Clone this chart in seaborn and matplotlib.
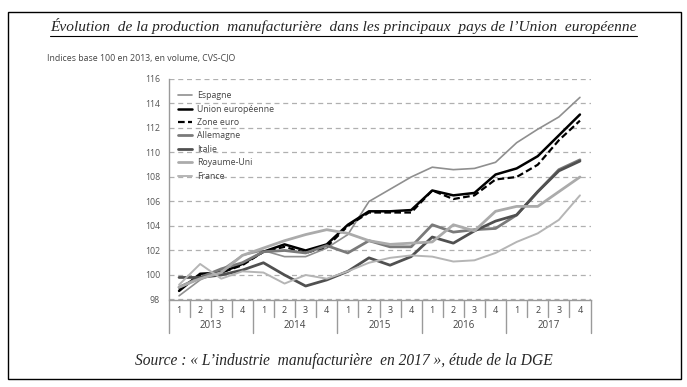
import matplotlib
matplotlib.use("Agg")
import matplotlib.pyplot as plt
import matplotlib.patches as mpatches
import matplotlib.transforms as mtransforms
import seaborn as sns
import pandas as pd

# Data (indices base 100 en 2013), quarters 2013Q1 .. 2017Q4
years = ["2013", "2014", "2015", "2016", "2017"]
quarters = ["1", "2", "3", "4"]

espagne = [98.3, 99.6, 100.4, 101.6, 102.0, 101.5, 101.5, 102.2, 103.3, 106.0,
           107.0, 108.0, 108.8, 108.6, 108.7, 109.2, 110.8, 111.9, 112.9, 114.5]
union_europeenne = [98.7, 100.1, 100.2, 100.9, 101.9, 102.5, 102.0, 102.5, 104.1, 105.2,
                    105.2, 105.3, 106.9, 106.5, 106.7, 108.2, 108.7, 109.7, 111.4, 113.1]
zone_euro = [98.8, 100.0, 100.2, 100.8, 101.9, 102.3, 101.8, 102.3, 104.0, 105.1,
             105.1, 105.1, 106.9, 106.2, 106.5, 107.8, 108.0, 109.0, 111.0, 112.6]
allemagne = [99.0, 99.8, 100.5, 101.0, 101.9, 102.0, 101.8, 102.4, 101.8, 102.8,
             102.3, 102.3, 104.1, 103.5, 103.7, 103.8, 104.9, 106.8, 108.6, 109.4]
italie = [99.8, 99.8, 100.0, 100.4, 101.0, 100.0, 99.1, 99.6, 100.3, 101.4,
          100.8, 101.5, 103.1, 102.6, 103.6, 104.4, 104.9, 106.8, 108.5, 109.3]
royaume_uni = [99.0, 99.7, 100.2, 101.6, 102.2, 102.8, 103.3, 103.7, 103.4, 102.8,
               102.5, 102.6, 102.7, 104.1, 103.6, 105.2, 105.6, 105.6, 106.8, 108.0]
france = [99.2, 100.9, 99.7, 100.3, 100.2, 99.3, 100.0, 99.7, 100.3, 101.0,
          101.4, 101.6, 101.5, 101.1, 101.2, 101.8, 102.7, 103.4, 104.5, 106.5]

series = [
    ("Espagne", espagne, "#8f8f8f", 1.2, "-"),
    ("Union européenne", union_europeenne, "#000000", 1.8, "-"),
    ("Zone euro", zone_euro, "#000000", 1.6, (0, (3, 1.5))),
    ("Allemagne", allemagne, "#7a7a7a", 2.0, "-"),
    ("Italie", italie, "#505050", 2.0, "-"),
    ("Royaume-Uni", royaume_uni, "#ababab", 2.0, "-"),
    ("France", france, "#b5b5b5", 1.4, "-"),
]

n = len(years) * len(quarters)
idx = list(range(n))

W, H = 687, 387
fig = plt.figure(figsize=(W / 100, H / 100), dpi=100)
sns.set_style("white")
plt.rcParams["font.family"] = ["Open Sans", "DejaVu Sans"]

ax = fig.add_axes([168.5 / W, 1 - 299.5 / H, 422 / W, 220.5 / H])

for name, vals, color, lw, ls in series:
    df = pd.DataFrame({"q": idx, "v": vals})
    sns.lineplot(data=df, x="q", y="v", ax=ax, color=color, linewidth=lw,
                 linestyle=ls, label=name)

ax.set_xlim(-0.5, n - 0.5)
ax.set_ylim(98, 116)
ax.set_yticks(range(98, 117, 2))
ax.set_yticklabels([str(v) for v in range(98, 117, 2)], fontsize=6.3, color="#555555")
ax.tick_params(axis="y", length=0, pad=6)
ax.yaxis.grid(True, color="#b0b0b0", linestyle=(0, (4, 3)), linewidth=0.9)
ax.set_axisbelow(True)
ax.set_xlabel("")
ax.set_ylabel("")
for s in ["top", "right"]:
    ax.spines[s].set_visible(False)
for s in ["left", "bottom"]:
    ax.spines[s].set_color("#9a9a9a")
    ax.spines[s].set_linewidth(1.0)

# two-level x axis
ax.set_xticks(idx)
ax.set_xticklabels(quarters * len(years), fontsize=6.5, color="#444444")
ax.tick_params(axis="x", length=0, pad=5)
trans = mtransforms.blended_transform_factory(ax.transData, ax.transAxes)
px = 1 / 220.5
for i in range(n + 1):
    x = i - 0.5
    bottom = -33 * px if i % 4 == 0 else -17 * px
    ax.plot([x, x], [0, bottom], transform=trans, color="#9a9a9a",
            linewidth=1.0, clip_on=False)
for k, yr in enumerate(years):
    ax.text(k * 4 + 1.5, -26.5 * px, yr, transform=trans, ha="center",
            va="center", fontsize=7, color="#444444")

leg = ax.legend(loc="upper left", bbox_to_anchor=(0.015, 0.96), frameon=False,
                fontsize=6.3, handlelength=1.6, labelspacing=0.5,
                handletextpad=0.5, borderaxespad=0)
for t in leg.get_texts():
    t.set_color("#444444")

# figure frame, title, notes
fig.patches.append(mpatches.Rectangle((7.5 / W, 1 - 379 / H), 673 / W, 367 / H,
                                      transform=fig.transFigure, fill=False,
                                      edgecolor="#000000", linewidth=1.0))
fig.text(343.5 / W, 1 - 26 / H,
         "Évolution  de la production  manufacturière  dans les principaux  pays de l’Union  européenne",
         ha="center", va="center", fontsize=11.1, style="italic",
         family="Liberation Serif")
fig.lines.append(plt.Line2D([50 / W, 637 / W], [1 - 36 / H, 1 - 36 / H],
                            transform=fig.transFigure, color="black", linewidth=0.8))
fig.text(47 / W, 1 - 58 / H, "Indices base 100 en 2013, en volume, CVS-CJO",
         ha="left", va="center", fontsize=6.3, color="#444444")
fig.text(343.5 / W, 1 - 361 / H,
         "Source : « L’industrie  manufacturière  en 2017 », étude de la DGE",
         ha="center", va="center", fontsize=11.2, style="italic",
         family="Liberation Serif")

fig.savefig("out.png", dpi=100)
